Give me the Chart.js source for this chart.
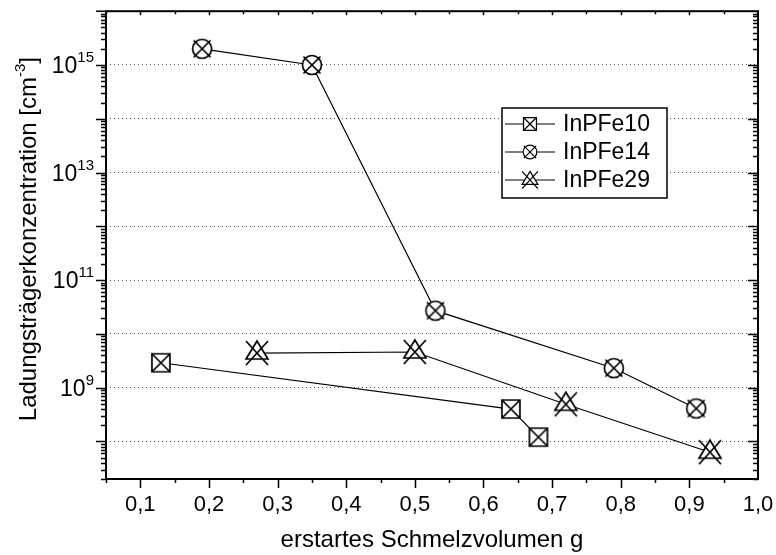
<!DOCTYPE html>
<html>
<head>
<meta charset="utf-8">
<script src="https://cdn.jsdelivr.net/npm/chart.js"></script>
<style>
  html, body { margin: 0; padding: 0; background: #fff; }
  #wrap { width: 776px; height: 555px; }
</style>
</head>
<body>
<div id="wrap"><canvas id="chart" width="776" height="555"></canvas></div>
<script>
// values
const fe10X = [0.13, 0.64, 0.68];
const fe10Y = [2.9e9, 4.0e8, 1.2e8];
const fe14X = [0.19, 0.35, 0.53, 0.79, 0.91];
const fe14Y = [2.0e15, 1.0e15, 2.7e10, 2.3e9, 4.1e8];
const fe29X = [0.27, 0.50, 0.72, 0.93];
const fe29Y = [4.4e9, 4.6e9, 4.9e8, 6.3e7];

const seriesNames = ["InPFe10", "InPFe14", "InPFe29"];
const xTickValues = [0.1, 0.2, 0.3, 0.4, 0.5, 0.6, 0.7, 0.8, 0.9, 1.0];
const yLabelExps = [9, 11, 13, 15];

const FONT = "'Liberation Sans', Arial, sans-serif";

(function () {
    function drawMarker(ctx, kind, cx, cy, s) {
        ctx.save();
        ctx.translate(cx, cy);
        ctx.scale(s, s);
        ctx.strokeStyle = "#000";
        ctx.fillStyle = "#fff";
        ctx.lineWidth = 1.7;
        ctx.beginPath();
        if (kind === "square") {
            ctx.rect(-9, -9, 18, 18);
            ctx.fill();
            ctx.stroke();
            ctx.beginPath();
            ctx.moveTo(-9, -9); ctx.lineTo(9, 9);
            ctx.moveTo(9, -9); ctx.lineTo(-9, 9);
            ctx.stroke();
        } else if (kind === "circle") {
            ctx.arc(0, 0, 9.5, 0, Math.PI * 2);
            ctx.fill();
            ctx.stroke();
            ctx.beginPath();
            ctx.moveTo(-8.5, -8.5); ctx.lineTo(8.5, 8.5);
            ctx.moveTo(8.5, -8.5); ctx.lineTo(-8.5, 8.5);
            ctx.stroke();
        } else {
            ctx.moveTo(0, -12); ctx.lineTo(11, 6); ctx.lineTo(-11, 6); ctx.closePath();
            ctx.fill();
            ctx.stroke();
            ctx.beginPath();
            ctx.moveTo(-11, -12); ctx.lineTo(11, 12);
            ctx.moveTo(11, -12); ctx.lineTo(-11, 12);
            ctx.stroke();
        }
        ctx.restore();
    }

    function markerCanvas(kind) {
        let c = document.createElement("canvas");
        c.width = 30;
        c.height = 30;
        drawMarker(c.getContext("2d"), kind, 15, 15, 1);
        return c;
    }

    const kinds = ["square", "circle", "triangle"];
    const markers = kinds.map(markerCanvas);

    function pts(xs, ys) {
        return xs.map((v, i) => ({ x: v, y: ys[i] }));
    }

    function isDecade(v) {
        let l = Math.log10(v);
        return Math.abs(l - Math.round(l)) < 1e-9;
    }

    const decorPlugin = {
        id: "decor",
        afterDraw(chart) {
            const ctx = chart.ctx;
            const a = chart.chartArea;
            const x = chart.scales.x;
            const y = chart.scales.y;

            ctx.save();
            ctx.strokeStyle = "#000";

            // tick marks
            ctx.lineWidth = 1.5;
            ctx.beginPath();
            for (let e = 7; e <= 15; e++) {
                for (let m = 1; m <= 9; m++) {
                    let v = m * Math.pow(10, e);
                    if (v < y.min * 0.999 || v > y.max * 1.001) continue;
                    let py = Math.round(y.getPixelForValue(v)) + 0.5;
                    let len = m === 1 ? 10 : 5;
                    ctx.moveTo(a.left - len, py); ctx.lineTo(a.left, py);
                    ctx.moveTo(a.right, py); ctx.lineTo(a.right - len, py);
                }
            }
            let top = y.getPixelForValue(y.max);
            ctx.moveTo(a.left - 10, top); ctx.lineTo(a.left, top);
            for (let i = 1; i <= 19; i++) {
                let v = 0.05 * i;
                let px = Math.round(x.getPixelForValue(v)) + 0.5;
                let major = i % 2 === 0;
                ctx.moveTo(px, a.bottom); ctx.lineTo(px, a.bottom + (major ? 9 : 4));
                ctx.moveTo(px, a.top); ctx.lineTo(px, a.top + (major ? 4 : 3));
            }
            ctx.stroke();

            // frame
            ctx.lineWidth = 2;
            ctx.strokeRect(a.left, a.top, a.right - a.left, a.bottom - a.top);

            // x tick labels
            ctx.fillStyle = "#000";
            ctx.font = "22px " + FONT;
            ctx.textAlign = "center";
            ctx.textBaseline = "middle";
            xTickValues.forEach(v => {
                ctx.fillText(v.toFixed(1).replace(".", ","), x.getPixelForValue(v), 505);
            });

            // y tick labels 10^n
            ctx.textBaseline = "alphabetic";
            ctx.textAlign = "left";
            yLabelExps.forEach(e => {
                let py = y.getPixelForValue(Math.pow(10, e));
                ctx.font = "15px " + FONT;
                let w2 = ctx.measureText(String(e)).width;
                ctx.font = "23px " + FONT;
                let w1 = ctx.measureText("10").width;
                let right = 94;
                ctx.fillText("10", right - w2 - w1, py + 8);
                ctx.font = "15px " + FONT;
                ctx.fillText(String(e), right - w2, py - 3);
            });

            // x axis title
            ctx.font = "24px " + FONT;
            ctx.textAlign = "center";
            ctx.fillText("erstartes Schmelzvolumen g", (a.left + a.right) / 2, 547);

            // y axis title, rotated, with superscript
            ctx.save();
            ctx.translate(36, (a.top + a.bottom) / 2 - 6);
            ctx.rotate(-Math.PI / 2);
            ctx.textAlign = "left";
            let main = "Ladungsträgerkonzentration [cm";
            ctx.font = "24px " + FONT;
            let wMain = ctx.measureText(main).width;
            let wEnd = ctx.measureText("]").width;
            ctx.font = "15px " + FONT;
            let wSup = ctx.measureText("-3").width;
            let start = -(wMain + wSup + wEnd) / 2;
            ctx.font = "24px " + FONT;
            ctx.fillText(main, start, 0);
            ctx.font = "15px " + FONT;
            ctx.fillText("-3", start + wMain, -11);
            ctx.font = "24px " + FONT;
            ctx.fillText("]", start + wMain + wSup, 0);
            ctx.restore();

            // legend
            const lx = 502, ly = 108, lw = 165, lh = 90;
            ctx.fillStyle = "#fff";
            ctx.fillRect(lx, ly, lw, lh);
            ctx.lineWidth = 1.5;
            ctx.strokeStyle = "#000";
            ctx.strokeRect(lx, ly, lw, lh);
            ctx.font = "23px " + FONT;
            ctx.textAlign = "left";
            ctx.textBaseline = "middle";
            seriesNames.forEach((name, i) => {
                let ry = 124 + i * 28;
                ctx.lineWidth = 1.2;
                ctx.beginPath();
                ctx.moveTo(lx + 3, ry); ctx.lineTo(lx + 53, ry);
                ctx.stroke();
                drawMarker(ctx, kinds[i], lx + 28, ry, 0.72);
                ctx.fillStyle = "#000";
                ctx.fillText(name, lx + 61, ry + 1);
            });
            ctx.restore();
        }
    };

    function makeDataset(label, xs, ys, idx) {
        return {
            label: label,
            data: pts(xs, ys),
            showLine: true,
            borderColor: "#000",
            borderWidth: 1.2,
            tension: 0,
            pointStyle: markers[idx],
            pointRadius: 10,
            pointHoverRadius: 10,
            clip: false
        };
    }

    let ctx = document.getElementById("chart").getContext("2d");
    new Chart(ctx, {
        type: "scatter",
        data: {
            datasets: [
                makeDataset(seriesNames[0], fe10X, fe10Y, 0),
                makeDataset(seriesNames[1], fe14X, fe14Y, 1),
                makeDataset(seriesNames[2], fe29X, fe29Y, 2)
            ]
        },
        options: {
            responsive: false,
            animation: false,
            devicePixelRatio: 1,
            layout: { padding: { top: 11, right: 18, left: 0, bottom: 0 } },
            plugins: { legend: { display: false }, tooltip: { enabled: false } },
            scales: {
                x: {
                    type: "linear",
                    min: 0.05,
                    max: 1.0,
                    ticks: { display: false },
                    grid: { display: false },
                    border: { display: false },
                    afterFit: s => { s.height = 76; }
                },
                y: {
                    type: "logarithmic",
                    min: 2e7,
                    max: 1e16,
                    ticks: { display: false },
                    grid: {
                        drawTicks: false,
                        lineWidth: 1,
                        color: c => (c.tick && isDecade(c.tick.value) && c.tick.value < 1e16) ? "#555" : "rgba(0,0,0,0)"
                    },
                    border: { display: false, dash: [1, 3] },
                    afterFit: s => { s.width = 106; }
                }
            }
        },
        plugins: [decorPlugin]
    });
})();
</script>
</body>
</html>
